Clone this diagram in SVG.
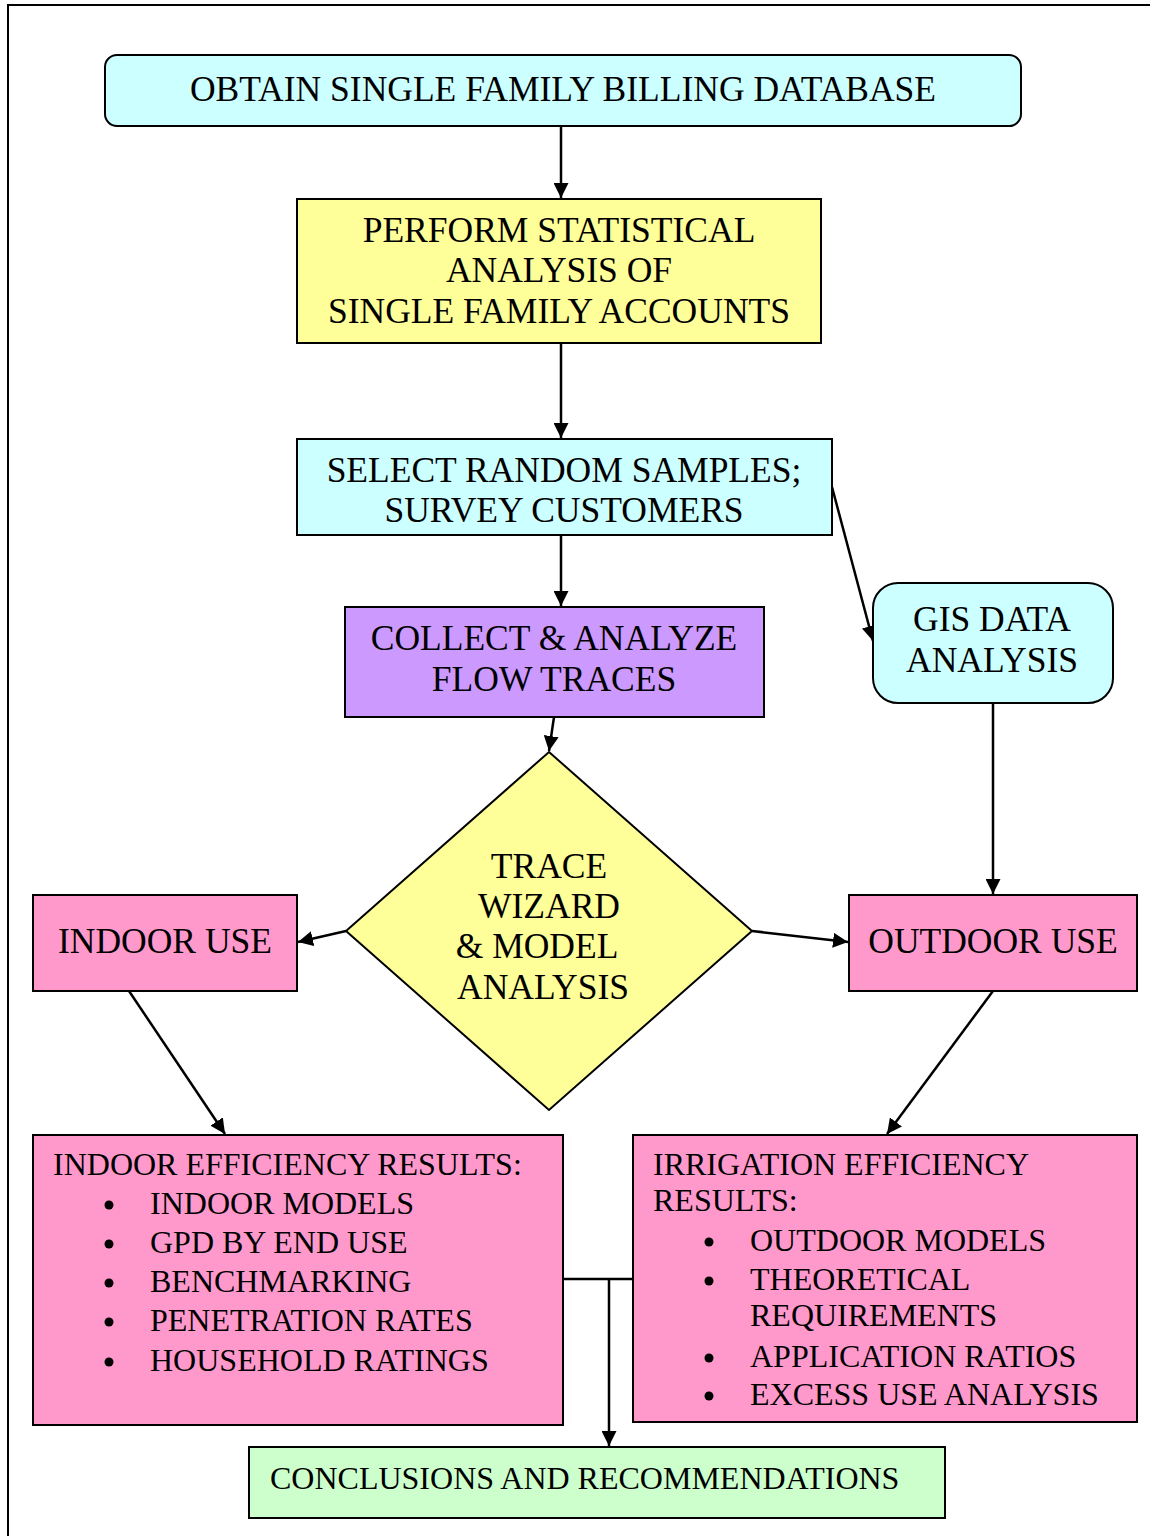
<svg xmlns="http://www.w3.org/2000/svg" width="1150" height="1536" viewBox="0 0 1150 1536">
<style>
.b{stroke:#000;stroke-width:2}
.t{font-family:"Liberation Serif","Times New Roman",serif;font-size:35.5px;fill:#000}
.s{font-family:"Liberation Serif","Times New Roman",serif;font-size:32px;fill:#000}
.c{stroke:#000;stroke-width:2.5;fill:none}
</style>
<defs>
<marker id="ah" markerWidth="15" markerHeight="15" refX="15" refY="7.5" orient="auto" markerUnits="userSpaceOnUse" viewBox="0 0 15 15">
<path d="M0,0 L15,7.5 L0,15 z" fill="#000"/>
</marker>
</defs>
<rect width="1150" height="1536" fill="#fff"/>
<path d="M8,1536 V5 H1150" class="c" style="stroke-width:2"/>
<g id="connectors">
<line x1="561" y1="126" x2="561" y2="198" class="c" marker-end="url(#ah)"/>
<line x1="561" y1="343" x2="561" y2="438" class="c" marker-end="url(#ah)"/>
<line x1="561" y1="535" x2="561" y2="606" class="c" marker-end="url(#ah)"/>
<line x1="832" y1="487" x2="873" y2="641" class="c" marker-end="url(#ah)"/>
<line x1="554" y1="717" x2="549" y2="751" class="c" marker-end="url(#ah)"/>
<line x1="346" y1="931" x2="298" y2="942" class="c" marker-end="url(#ah)"/>
<line x1="752" y1="931" x2="848" y2="942" class="c" marker-end="url(#ah)"/>
<line x1="993" y1="703" x2="993" y2="894" class="c" marker-end="url(#ah)"/>
<line x1="129" y1="991" x2="225" y2="1134" class="c" marker-end="url(#ah)"/>
<line x1="993" y1="991" x2="887" y2="1134" class="c" marker-end="url(#ah)"/>
<line x1="561" y1="1279" x2="633" y2="1279" class="c"/>
<line x1="609" y1="1279" x2="609" y2="1446" class="c" marker-end="url(#ah)"/>
</g>
<g id="n1">
<rect x="105" y="55" width="916" height="71" rx="12" fill="#CCFFFF" class="b"/>
<text class="t" x="563" y="101" text-anchor="middle">OBTAIN SINGLE FAMILY BILLING DATABASE</text>
</g>
<g id="n2">
<rect x="297" y="199" width="524" height="144" fill="#FFFF99" class="b"/>
<text class="t" text-anchor="middle"><tspan x="559" y="242">PERFORM STATISTICAL</tspan><tspan x="559" y="282">ANALYSIS OF</tspan><tspan x="559" y="323">SINGLE FAMILY ACCOUNTS</tspan></text>
</g>
<g id="n3">
<rect x="297" y="439" width="535" height="96" fill="#CCFFFF" class="b"/>
<text class="t" text-anchor="middle"><tspan x="564" y="482">SELECT RANDOM SAMPLES;</tspan><tspan x="564" y="522">SURVEY CUSTOMERS</tspan></text>
</g>
<g id="n4">
<rect x="345" y="607" width="419" height="110" fill="#CC99FF" class="b"/>
<text class="t" text-anchor="middle"><tspan x="554" y="650">COLLECT &amp; ANALYZE</tspan><tspan x="554" y="691">FLOW TRACES</tspan></text>
</g>
<g id="n5">
<rect x="873" y="583" width="240" height="120" rx="25" fill="#CCFFFF" class="b"/>
<text class="t" text-anchor="middle"><tspan x="992" y="631">GIS DATA</tspan><tspan x="992" y="672">ANALYSIS</tspan></text>
</g>
<g id="n6">
<polygon points="549,752 752,931 549,1110 346,931" fill="#FFFF99" class="b"/>
<text class="t" text-anchor="middle"><tspan x="549" y="878">TRACE</tspan><tspan x="549" y="918">WIZARD</tspan><tspan x="537" y="958">&amp; MODEL</tspan><tspan x="543" y="999">ANALYSIS</tspan></text>
</g>
<g id="n7">
<rect x="33" y="895" width="264" height="96" fill="#FF99CC" class="b"/>
<text class="t" x="165" y="953" text-anchor="middle">INDOOR USE</text>
</g>
<g id="n8">
<rect x="849" y="895" width="288" height="96" fill="#FF99CC" class="b"/>
<text class="t" x="993" y="953" text-anchor="middle">OUTDOOR USE</text>
</g>
<g id="n9">
<rect x="33" y="1135" width="530" height="290" fill="#FF99CC" class="b"/>
<text class="s"><tspan x="53" y="1175">INDOOR EFFICIENCY RESULTS:</tspan><tspan x="150" y="1214">INDOOR MODELS</tspan><tspan x="150" y="1253">GPD BY END USE</tspan><tspan x="150" y="1292">BENCHMARKING</tspan><tspan x="150" y="1331">PENETRATION RATES</tspan><tspan x="150" y="1371">HOUSEHOLD RATINGS</tspan></text>
<g fill="#000"><circle cx="109" cy="1205" r="4.5"/><circle cx="109" cy="1244" r="4.5"/><circle cx="109" cy="1283" r="4.5"/><circle cx="109" cy="1322" r="4.5"/><circle cx="109" cy="1362" r="4.5"/></g>
</g>
<g id="n10">
<rect x="633" y="1135" width="504" height="287" fill="#FF99CC" class="b"/>
<text class="s"><tspan x="653" y="1175">IRRIGATION EFFICIENCY</tspan><tspan x="653" y="1211">RESULTS:</tspan><tspan x="750" y="1251">OUTDOOR MODELS</tspan><tspan x="750" y="1290">THEORETICAL</tspan><tspan x="750" y="1326">REQUIREMENTS</tspan><tspan x="750" y="1367">APPLICATION RATIOS</tspan><tspan x="750" y="1405">EXCESS USE ANALYSIS</tspan></text>
<g fill="#000"><circle cx="709" cy="1242" r="4.5"/><circle cx="709" cy="1281" r="4.5"/><circle cx="709" cy="1358" r="4.5"/><circle cx="709" cy="1396" r="4.5"/></g>
</g>
<g id="n11">
<rect x="249" y="1447" width="696" height="71" fill="#CCFFCC" class="b"/>
<text class="s" x="270" y="1489">CONCLUSIONS AND RECOMMENDATIONS</text>
</g>
</svg>
